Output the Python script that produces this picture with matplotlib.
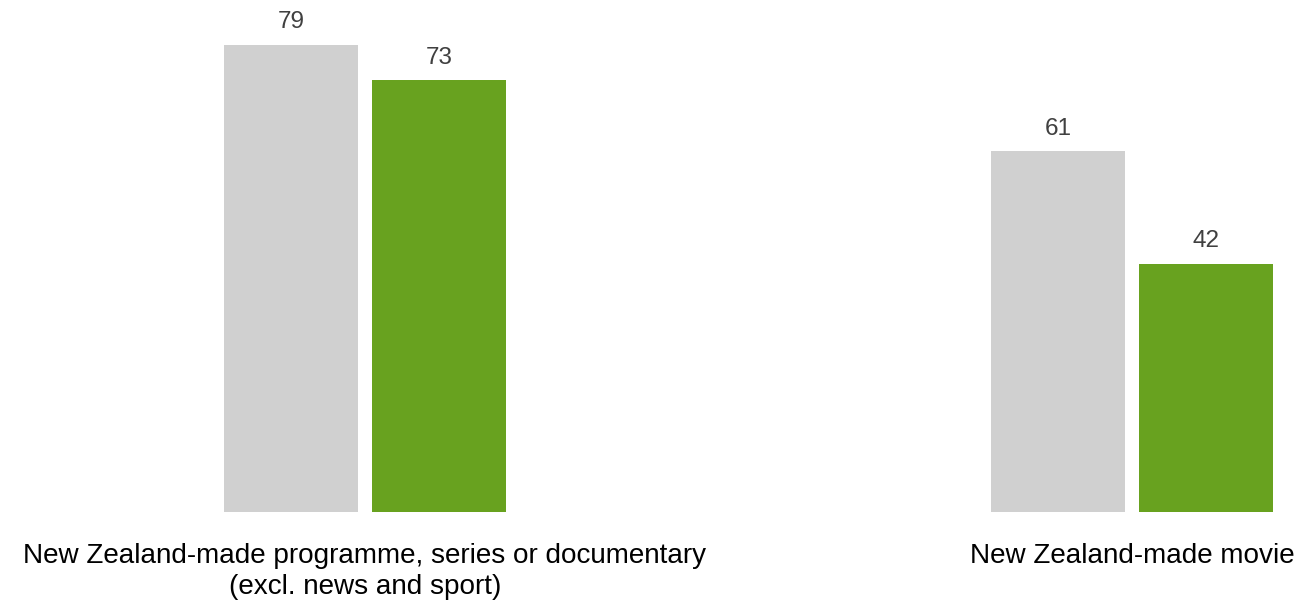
import numpy as np
import matplotlib.pyplot as plt

plt.rcParams['font.family'] = ['Liberation Sans', 'DejaVu Sans']

categories = ["New Zealand-made programme, series or documentary\n(excl. news and sport)",
              "New Zealand-made movie"]
series_a = [79, 61]
series_b = [73, 42]

grey = "#D0D0D0"
green = "#68A21F"

fig = plt.figure(figsize=(12.98, 6.03), dpi=100)
ax = fig.add_axes([0, 91 / 603, 1, 512 / 603])

x = np.arange(len(categories))
w = 134 / 767
off = 74 / 767

bars_a = ax.bar(x - off, series_a, width=w, color=grey)
bars_b = ax.bar(x + off, series_b, width=w, color=green)

for bars in (bars_a, bars_b):
    for b in bars:
        ax.annotate(f"{b.get_height():.0f}", (b.get_x() + b.get_width() / 2, b.get_height()),
                    xytext=(0, 8.5), textcoords="offset points", ha="center", va="bottom",
                    fontsize=17.5, color="#404040")

for xi, label in zip(x, categories):
    ax.annotate(label, (xi, 0), xytext=(0, -22), textcoords="offset points",
                ha="center", va="top", fontsize=20.1, color="black", linespacing=1.25)

ax.set_xlim(-365 / 767, 933 / 767)
ax.set_ylim(0, 512 / 5.911)
ax.axis("off")

fig.savefig("out.png", dpi=100)
